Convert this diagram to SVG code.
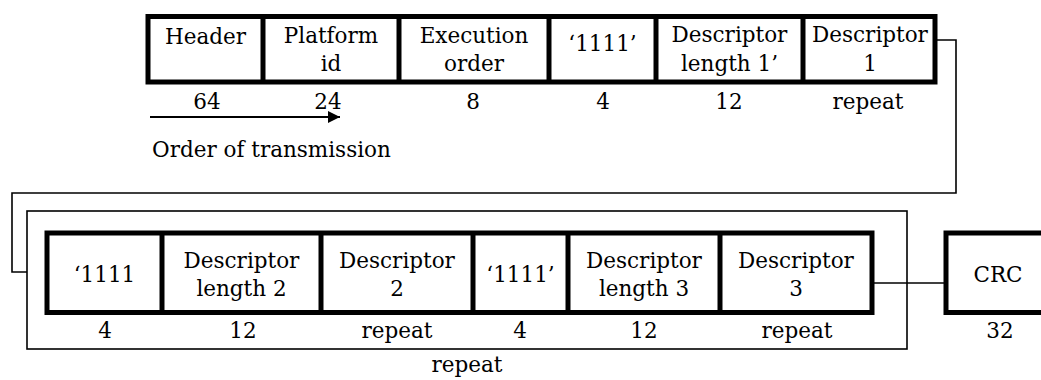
<svg xmlns="http://www.w3.org/2000/svg" width="1041" height="380" viewBox="0 0 1041 380">
<defs>
<style>
text{font-family:"DejaVu Serif","Liberation Serif",serif;font-size:21.5px;fill:#000;text-anchor:middle}
.box{fill:#fff;stroke:#000;stroke-width:5}
.div{stroke:#000;stroke-width:5}
.thin{fill:none;stroke:#000;stroke-width:1.6}
</style>
<marker id="arr" viewBox="0 0 10 10" refX="10" refY="5" markerWidth="16" markerHeight="12" markerUnits="userSpaceOnUse" orient="auto">
<path d="M0,0 L10,5 L0,10 z" fill="#000"/>
</marker>
</defs>
<rect width="1041" height="380" fill="#fff"/>
<g id="repeat-frame">
<rect class="thin" x="27" y="211" width="880" height="138"/>
<text x="467" y="372">repeat</text>
</g>
<g id="connectors">
<polyline class="thin" points="935,40 956,40 956,193 12,193 12,272 27,272"/>
<line class="thin" x1="872" y1="283" x2="946" y2="283"/>
<line x1="150" y1="117" x2="340" y2="117" stroke="#000" stroke-width="2" marker-end="url(#arr)"/>
<text x="152" y="157" style="text-anchor:start">Order of transmission</text>
</g>
<g id="top-row">
<rect class="box" x="148" y="16.5" width="787" height="65.5"/>
<line class="div" x1="263" y1="16" x2="263" y2="82"/>
<line class="div" x1="399" y1="16" x2="399" y2="82"/>
<line class="div" x1="549" y1="16" x2="549" y2="82"/>
<line class="div" x1="656" y1="16" x2="656" y2="82"/>
<line class="div" x1="803" y1="16" x2="803" y2="82"/>
</g>
<g id="header"><text x="205.5" y="44">Header</text><text x="207" y="109">64</text></g>
<g id="platform-id"><text x="331" y="43">Platform</text><text x="331" y="71">id</text><text x="328" y="109">24</text></g>
<g id="execution-order"><text x="474" y="43">Execution</text><text x="474" y="71">order</text><text x="473" y="109">8</text></g>
<g id="ones-1"><text x="602.5" y="51">‘1111’</text><text x="603" y="109">4</text></g>
<g id="descriptor-length-1"><text x="729.5" y="42">Descriptor</text><text x="729.5" y="71">length 1’</text><text x="729" y="109">12</text></g>
<g id="descriptor-1"><text x="870" y="42">Descriptor</text><text x="870" y="71">1</text><text x="868" y="109">repeat</text></g>
<g id="bottom-row">
<rect class="box" x="47" y="233" width="825" height="79.5"/>
<line class="div" x1="162" y1="233" x2="162" y2="313"/>
<line class="div" x1="321" y1="233" x2="321" y2="313"/>
<line class="div" x1="473" y1="233" x2="473" y2="313"/>
<line class="div" x1="568" y1="233" x2="568" y2="313"/>
<line class="div" x1="720" y1="233" x2="720" y2="313"/>
</g>
<g id="ones-2"><text x="104.5" y="282">‘1111</text><text x="105" y="338">4</text></g>
<g id="descriptor-length-2"><text x="241.5" y="268">Descriptor</text><text x="241.5" y="296">length 2</text><text x="243" y="338">12</text></g>
<g id="descriptor-2"><text x="397" y="268">Descriptor</text><text x="397" y="296">2</text><text x="397" y="338">repeat</text></g>
<g id="ones-3"><text x="520.5" y="282">‘1111’</text><text x="520" y="338">4</text></g>
<g id="descriptor-length-3"><text x="644" y="268">Descriptor</text><text x="644" y="296">length 3</text><text x="644" y="338">12</text></g>
<g id="descriptor-3"><text x="796" y="268">Descriptor</text><text x="796" y="296">3</text><text x="797" y="338">repeat</text></g>
<g id="crc">
<rect class="box" x="946" y="233" width="110" height="79.5"/>
<text x="998" y="282">CRC</text><text x="1000" y="338">32</text>
</g>
</svg>
